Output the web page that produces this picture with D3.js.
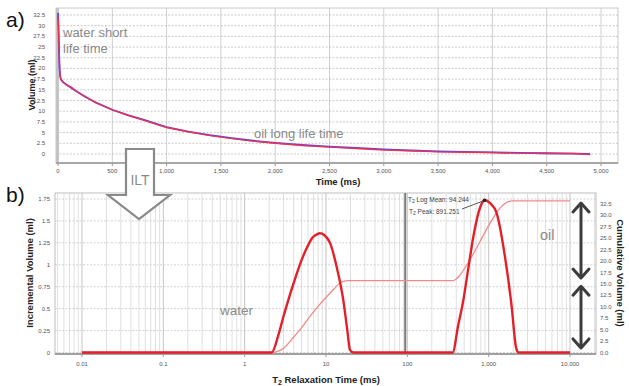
<!DOCTYPE html>
<html>
<head>
<meta charset="utf-8">
<script src="https://cdn.jsdelivr.net/npm/d3@7"></script>
<style>
  html, body { margin: 0; padding: 0; background: #fff; }
  svg { display: block; font-family: "Liberation Sans", Arial, sans-serif; }
</style>
</head>
<body>
<svg id="chart" width="629" height="386"></svg>
<script>
// ---- (a) free induction decay: time (ms) vs volume (ml) ----
const decayTime = [0, 5, 10, 15, 20, 30, 50, 80, 120, 180, 250, 350, 500, 650, 800, 1000, 1200, 1400,
                   1600, 1800, 2000, 2250, 2500, 2750, 3000, 3250, 3500, 3750, 4000, 4250, 4500, 4750, 4900];
const decayMeasured = [32.3, 29.5, 24.0, 19.6, 18.0, 17.4, 16.8, 16.1, 15.7, 14.5, 13.4, 12.0, 10.3, 9.0, 7.8,
                       6.2, 5.2, 4.3, 3.6, 3.0, 2.5, 2.0, 1.6, 1.3, 0.95, 0.75, 0.5, 0.4, 0.34, 0.2, 0.12, 0.1, -0.1];
const decayFit = [33.0, 29.0, 23.5, 19.8, 18.2, 17.3, 16.7, 16.2, 15.5, 14.5, 13.4, 12.0, 10.35, 9.05, 7.9,
                  6.3, 5.25, 4.4, 3.7, 3.1, 2.6, 2.1, 1.72, 1.4, 1.08, 0.82, 0.62, 0.48, 0.36, 0.26, 0.18, 0.1, 0.0];
const decayXTicks = [0, 500, 1000, 1500, 2000, 2500, 3000, 3500, 4000, 4500, 5000];
const decayYTicks = [0, 2.5, 5, 7.5, 10, 12.5, 15, 17.5, 20, 22.5, 25, 27.5, 30, 32.5];

// ---- (b) T2 distribution after inverse Laplace transform ----
const t2Incr = [0.01, 2.15, 2.6, 3.0, 3.5, 4.0, 4.6, 5.3, 6.0, 6.7, 7.5, 8.4, 9.5, 11.2, 13.5, 16.3, 18.3, 19.7, 21.7,
                361, 420, 489, 560, 648, 783, 891.251, 1050, 1253, 1588, 1920, 2168, 2316, 10000];
const incrementalVolume = [0, 0, 0.2, 0.41, 0.62, 0.79, 0.96, 1.11, 1.22, 1.30, 1.34, 1.36, 1.34, 1.25, 0.98, 0.60, 0.25, 0.03, 0,
                           0, 0.30, 0.60, 0.95, 1.32, 1.65, 1.735, 1.70, 1.59, 1.09, 0.52, 0.06, 0, 0];
const t2Cum = [0.01, 2.2, 2.6, 3.0, 4.0, 5.0, 6.35, 8.0, 10.2, 12.5, 14.9, 16.5, 18.5, 21.7,
               361, 400, 445, 590, 783, 1040, 1380, 1740, 2000, 10000];
const cumulativeVolume = [0, 0, 0.3, 0.9, 3.4, 5.4, 7.9, 10.1, 12.2, 13.9, 15.2, 15.6, 15.74, 15.74,
                          15.74, 16.1, 17.0, 20.3, 24.3, 28.3, 31.6, 33.0, 33.2, 33.2];
const t2Ticks = [0.01, 0.1, 1, 10, 100, 1000, 10000];
const t2TickLabels = ["0.01", "0.1", "1", "10", "100", "1,000", "10,000"];
const incrTicks = [0, 0.25, 0.5, 0.75, 1, 1.25, 1.5, 1.75];
const cumTicks = [0, 2.5, 5, 7.5, 10, 12.5, 15, 17.5, 20, 22.5, 25, 27.5, 30, 32.5];
const t2LogMean = 94.244;
const t2Peak = 891.251;
const t2PeakVolume = 1.735;

const svg = d3.select("#chart");
const tickColor = "#555";

// ================= panel (a) =================
const A = { left: 56, right: 618, top: 8, bottom: 163 };
const xA = d3.scaleLinear().domain([0, 5000]).range([58, 601]);
const yA = d3.scaleLinear().domain([0, 32.5]).range([154, 15]);
const gA = svg.append("g");

gA.append("rect").attr("x", A.left).attr("y", A.top)
  .attr("width", A.right - A.left).attr("height", A.bottom - A.top)
  .attr("fill", "#fff").attr("stroke", "#c8c8c8");

gA.selectAll("line.vg").data(decayXTicks).join("line")
  .attr("x1", d => xA(d)).attr("x2", d => xA(d))
  .attr("y1", A.top).attr("y2", A.bottom)
  .attr("stroke", "#cfcfcf").attr("stroke-width", 1);

gA.selectAll("line.hg").data(decayYTicks).join("line")
  .attr("x1", A.left).attr("x2", A.right)
  .attr("y1", d => yA(d)).attr("y2", d => yA(d))
  .attr("stroke", "#bdbdbd").attr("stroke-width", 0.8).attr("stroke-dasharray", "2,1.5");

// left rail and bottom axis
gA.append("rect").attr("x", A.left).attr("y", A.top).attr("width", 3)
  .attr("height", A.bottom - A.top).attr("fill", "#c4c4c4");
gA.append("line").attr("x1", A.left).attr("x2", A.right)
  .attr("y1", A.bottom).attr("y2", A.bottom).attr("stroke", "#a8a8a8").attr("stroke-width", 2);
gA.selectAll("line.xt").data(decayXTicks).join("line")
  .attr("x1", d => xA(d)).attr("x2", d => xA(d))
  .attr("y1", A.bottom).attr("y2", A.bottom + 3).attr("stroke", "#999");

gA.selectAll("text.xl").data(decayXTicks).join("text")
  .attr("x", d => xA(d)).attr("y", 173).attr("text-anchor", "middle")
  .attr("font-size", 6).attr("fill", tickColor).text(d => d3.format(",")(d));
gA.selectAll("text.yl").data(decayYTicks).join("text")
  .attr("x", 45).attr("y", d => yA(d) + 2).attr("text-anchor", "end")
  .attr("font-size", 6).attr("fill", tickColor).text(d => d);

gA.append("text").attr("x", 338).attr("y", 185).attr("text-anchor", "middle")
  .attr("font-size", 9.5).attr("font-weight", "bold").attr("fill", "#222").text("Time (ms)");
gA.append("text").attr("transform", "translate(35,85) rotate(-90)").attr("text-anchor", "middle")
  .attr("font-size", 9).attr("font-weight", "bold").attr("fill", "#222").text("Volume (ml)");

const lineA = d3.line().x((d, i) => xA(decayTime[i])).y(d => yA(d));
gA.append("path").attr("d", lineA(decayFit)).attr("fill", "none")
  .attr("stroke", "#4b4bff").attr("stroke-width", 1.8);
gA.append("path").attr("d", lineA(decayMeasured)).attr("fill", "none")
  .attr("stroke", "#ff2b3a").attr("stroke-width", 1.4).attr("stroke-opacity", 0.9);

gA.append("text").attr("x", 63).attr("y", 37).attr("font-size", 13).attr("fill", "#8a8a8a").text("water short");
gA.append("text").attr("x", 63).attr("y", 53).attr("font-size", 13).attr("fill", "#8a8a8a").text("life time");
gA.append("text").attr("x", 254).attr("y", 138).attr("font-size", 13).attr("fill", "#8a8a8a").text("oil long life time");

// ================= panel (b) =================
const B = { left: 55, right: 596, top: 193, bottom: 354 };
const xB = d3.scaleLog().domain([0.01, 10000]).range([82, 570]);
const yB = d3.scaleLinear().domain([0, 1.75]).range([352.5, 199]);
const yC = d3.scaleLinear().domain([0, 32.5]).range([352.5, 204]);
const gB = svg.append("g");

gB.append("rect").attr("x", B.left).attr("y", B.top)
  .attr("width", B.right - B.left).attr("height", B.bottom - B.top)
  .attr("fill", "#fff").attr("stroke", "#bdbdbd");

// log grid: minor lines at 2..9, heavier lines at each decade
const logGrid = [];
for (let k = -3; k <= 4; k++) {
  for (let m = 1; m <= 9; m++) {
    const v = m * Math.pow(10, k);
    const px = xB(v);
    if (px > B.left && px < B.right) logGrid.push({ v, major: m === 1 });
  }
}
gB.selectAll("line.lg").data(logGrid).join("line")
  .attr("x1", d => xB(d.v)).attr("x2", d => xB(d.v))
  .attr("y1", B.top).attr("y2", B.bottom)
  .attr("stroke", d => d.major ? "#c4c4c4" : "#e0e0e0").attr("stroke-width", 1);

gB.selectAll("line.hg").data(incrTicks).join("line")
  .attr("x1", B.left).attr("x2", B.right)
  .attr("y1", d => yB(d)).attr("y2", d => yB(d))
  .attr("stroke", "#c8c8c8").attr("stroke-width", 0.8).attr("stroke-dasharray", "2,1.5");

gB.append("line").attr("x1", B.left).attr("x2", B.right)
  .attr("y1", B.bottom).attr("y2", B.bottom).attr("stroke", "#a0a0a0").attr("stroke-width", 2);
gB.selectAll("line.xt").data(t2Ticks).join("line")
  .attr("x1", d => xB(d)).attr("x2", d => xB(d))
  .attr("y1", B.bottom).attr("y2", B.bottom + 3).attr("stroke", "#999");

gB.selectAll("text.xl").data(t2Ticks).join("text")
  .attr("x", d => xB(d)).attr("y", 366).attr("text-anchor", "middle")
  .attr("font-size", 6).attr("fill", tickColor).text((d, i) => t2TickLabels[i]);
gB.selectAll("text.yl").data(incrTicks).join("text")
  .attr("x", 50).attr("y", d => yB(d) + 2).attr("text-anchor", "end")
  .attr("font-size", 6).attr("fill", tickColor).text(d => d);
gB.selectAll("text.yr").data(cumTicks).join("text")
  .attr("x", 600).attr("y", d => yC(d) + 2).attr("text-anchor", "start")
  .attr("font-size", 6).attr("fill", tickColor).text(d => d3.format(".1f")(d));

const t2Title = gB.append("text").attr("x", 326).attr("y", 383).attr("text-anchor", "middle")
  .attr("font-size", 9.5).attr("font-weight", "bold").attr("fill", "#222");
t2Title.append("tspan").text("T");
t2Title.append("tspan").attr("font-size", 7).attr("dy", 1.5).text("2");
t2Title.append("tspan").attr("dy", -1.5).text(" Relaxation Time (ms)");

gB.append("text").attr("transform", "translate(33,273) rotate(-90)").attr("text-anchor", "middle")
  .attr("font-size", 9.5).attr("font-weight", "bold").attr("fill", "#222").text("Incremental Volume (ml)");
gB.append("text").attr("transform", "translate(617,273) rotate(90)").attr("text-anchor", "middle")
  .attr("font-size", 9.5).attr("font-weight", "bold").attr("fill", "#222").text("Cumulative Volume (ml)");

// log-mean marker
gB.append("line").attr("x1", xB(t2LogMean)).attr("x2", xB(t2LogMean))
  .attr("y1", B.top).attr("y2", B.bottom).attr("stroke", "#7a7a7a").attr("stroke-width", 2);

const lineCum = d3.line().curve(d3.curveMonotoneX)
  .x((d, i) => xB(t2Cum[i])).y(d => yC(d));
const lineIncr = d3.line().curve(d3.curveMonotoneX)
  .x((d, i) => xB(t2Incr[i])).y(d => yB(d));

gB.append("path").attr("d", lineCum(cumulativeVolume)).attr("fill", "none")
  .attr("stroke", "#f28a8a").attr("stroke-width", 1.3);
gB.append("path").attr("d", lineIncr(incrementalVolume)).attr("fill", "none")
  .attr("stroke", "#e3202a").attr("stroke-width", 2.4).attr("stroke-linejoin", "round");

// peak annotation
const peakX = xB(t2Peak), peakY = yB(t2PeakVolume);
const ann = gB.append("g").attr("font-size", 6.5).attr("fill", "#444");
const t1 = ann.append("text").attr("x", 408).attr("y", 202);
t1.append("tspan").text("T");
t1.append("tspan").attr("font-size", 5).attr("dy", 1).text("2");
t1.append("tspan").attr("dy", -1).text(" Log Mean: " + t2LogMean);
const t2 = ann.append("text").attr("x", 409).attr("y", 214);
t2.append("tspan").text("T");
t2.append("tspan").attr("font-size", 5).attr("dy", 1).text("2");
t2.append("tspan").attr("dy", -1).text(" Peak: " + t2Peak);
gB.append("line").attr("x1", 462).attr("y1", 209).attr("x2", peakX - 1).attr("y2", peakY + 0.5)
  .attr("stroke", "#555").attr("stroke-width", 1);
gB.append("circle").attr("cx", peakX).attr("cy", peakY).attr("r", 1.8).attr("fill", "#222");

gB.append("text").attr("x", 220).attr("y", 315).attr("font-size", 13.5).attr("fill", "#8a8a8a").text("water");
gB.append("text").attr("x", 540).attr("y", 240).attr("font-size", 14.5).attr("fill", "#8a8a8a").text("oil");

// double-headed arrows marking the oil and water portions of the cumulative volume
function doubleArrow(x, y1, y2) {
  const g = svg.append("g").attr("stroke", "#3c3c3c").attr("stroke-width", 3)
    .attr("fill", "none").attr("stroke-linecap", "round").attr("stroke-linejoin", "round");
  g.append("line").attr("x1", x).attr("x2", x).attr("y1", y1 + 1).attr("y2", y2 - 1);
  g.append("path").attr("d", `M${x - 8},${y1 + 9}L${x},${y1}L${x + 8},${y1 + 9}`);
  g.append("path").attr("d", `M${x - 8},${y2 - 9}L${x},${y2}L${x + 8},${y2 - 9}`);
}
doubleArrow(581, yC(32.5) - 1, yC(16.3));
doubleArrow(581, yC(14.5), yC(1));

// ILT block arrow between the panels
svg.append("path")
  .attr("d", "M126,149L154,149L154,195L170,195L139,219L108,195L126,195Z")
  .attr("fill", "#fff").attr("stroke", "#8a8a8a").attr("stroke-width", 2.2).attr("stroke-linejoin", "miter");
svg.append("text").attr("x", 140).attr("y", 185).attr("text-anchor", "middle")
  .attr("font-size", 14).attr("fill", "#8a8a8a").text("ILT");

// panel letters
svg.append("text").attr("x", 6).attr("y", 27).attr("font-size", 21).attr("fill", "#111").text("a)");
svg.append("text").attr("x", 6).attr("y", 202).attr("font-size", 21).attr("fill", "#111").text("b)");
</script>
</body>
</html>
